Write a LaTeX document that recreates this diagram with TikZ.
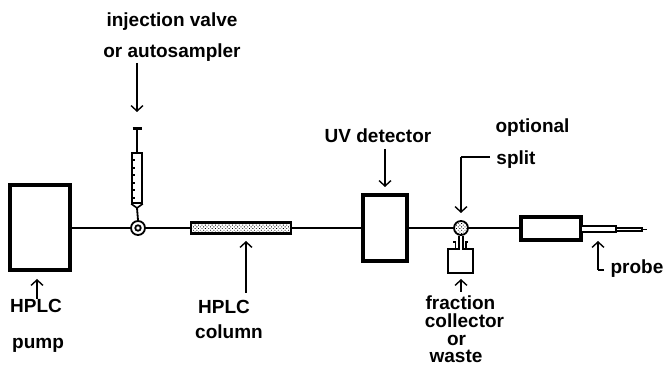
\documentclass[tikz,border=0pt]{standalone}
\usepackage{fontspec}
\setmainfont{Liberation Sans}
\usetikzlibrary{arrows.meta,patterns.meta}
\tikzset{
  lbl/.style={anchor=base,inner sep=0pt,font=\fontsize{19}{22}\selectfont\bfseries},
  box/.style={draw,line width=3.2pt,inner sep=0pt,fill=white,rectangle},
  thinbox/.style={draw,line width=1.6pt,inner sep=0pt,fill=white,rectangle},
  pipe/.style={line width=1.8pt},
  arr/.style={line width=1.4pt,-{Straight Barb[length=5.5pt,width=12pt,line width=1.4pt]}},
  lead/.style={line width=1.4pt},
  stipple/.style={pattern={Dots[radius=0.6pt,distance=2.4pt,angle=45]},pattern color=black}
}
\begin{document}
\begin{tikzpicture}[x=1pt,y=-1pt]
\useasboundingbox (0,0) rectangle (665,366);
% boxes
\node[box,minimum width=60pt,minimum height=85pt] (pump) at (40,227.5) {};
\node[box,minimum width=44pt,minimum height=66pt] (uv) at (385,228) {};
\node[box,minimum width=60pt,minimum height=23pt] (flow) at (551,228.5) {};
\node[box,stipple,line width=2.8pt,minimum width=100pt,minimum height=11pt] (column) at (241,228) {};
\node[circle,draw,line width=1.8pt,fill=white,minimum size=14pt,inner sep=0pt] (valve) at (138,228) {};
\node[circle,draw,line width=1.8pt,fill=white,minimum size=5.5pt,inner sep=0pt] (valvein) at (138,228) {};
\node[circle,draw,line width=1.8pt,stipple,minimum size=14pt,inner sep=0pt] (split) at (461,228) {};
% probe
\node[thinbox,minimum width=35pt,minimum height=6.5pt] (probeA) at (598.5,229) {};
\node[thinbox,minimum width=26pt,minimum height=3pt] (probeB) at (629,229.5) {};
\coordinate (probetip) at (647,229.5);
% syringe
\node[thinbox,minimum width=10pt,minimum height=50pt] (barrel) at (137,178) {};
\coordinate (plungertop) at (137,129);
\coordinate (tip) at (137,208);
% collector bottle
\node[thinbox,minimum width=25pt,minimum height=24pt] (bottle) at (460.5,261) {};
% tubing
\draw[pipe] (pump.east |- valve.west) -- (valve.west);
\draw[pipe] (valve.east) -- (column.west |- valve.east);
\draw[pipe] (column.east) -- (uv.west |- column.east);
\draw[pipe] (uv.east |- split.west) -- (split.west);
\draw[pipe] (split.east) -- (flow.west |- split.east);
\draw[line width=1.7pt] (probeB.east) -- (probetip);
% syringe details
\draw[line width=2pt] (plungertop) -- (barrel.north);
\draw[line width=3pt] ([xshift=-4.5pt]plungertop) -- ([xshift=4.5pt]plungertop);
\draw[line width=1.6pt] (barrel.south west) -- (tip) -- (barrel.south east);
\draw[pipe] (tip) -- (valve.north);
\foreach \t in {160,168,175,183,190,198}
  \draw[line width=1.3pt] (barrel.west |- 0,\t) -- ++(4,0);
% bottle neck
\draw[white,line width=3pt] (459,249) -- (463,249);
\draw[line width=1.3pt] (split.south) ++(-2,0) -- ++(0,14);
\draw[line width=1.3pt] (split.south) ++(2,0) -- ++(0,14);
\draw[line width=1.4pt] (bottle.north west) ++(8,0) |- ++(-2,-6);
\draw[line width=1.4pt] (bottle.north east) ++(-8,0) |- ++(2,-6);
% labels
\node[lbl] (t1) at (172,27) {injection valve};
\node[lbl] (t2) at (172,58) {or autosampler};
\node[lbl] (t3) at (378,143) {UV detector};
\node[lbl] (t4) at (532.5,133) {optional};
\node[lbl] (t5) at (516,165) {split};
\node[lbl] (t6) at (36,313) {HPLC};
\node[lbl] (t7) at (38,349) {pump};
\node[lbl] (t8) at (224,314) {HPLC};
\node[lbl] (t9) at (229,339) {column};
\node[lbl] (t10) at (460.5,310) {fraction};
\node[lbl] (t11) at (464.5,328) {collector};
\node[lbl] (t12) at (456.5,345.5) {or};
\node[lbl] (t13) at (456,363) {waste};
\node[lbl] (t14) at (637,274) {probe};
% pointers
\coordinate (a1) at (137,63); \coordinate (a1e) at (137,112);
\draw[arr] (a1) -- (a1e);
\coordinate (a2) at (385,149); \coordinate (a2e) at (385,187);
\draw[arr] (a2) -- (a2e);
\coordinate (a3) at (490,157); \coordinate (a3c) at (461,157); \coordinate (a3e) at (461,213);
\draw[lead] (a3) -- (a3c);
\draw[arr] (a3c) -- (a3e);
\coordinate (a4) at (37,299); \coordinate (a4e) at (37,279);
\draw[arr] (a4) -- (a4e);
\coordinate (a5) at (246,293); \coordinate (a5e) at (246,241);
\draw[arr] (a5) -- (a5e);
\coordinate (a6) at (461,292); \coordinate (a6e) at (461,279);
\draw[arr] (a6) -- (a6e);
\coordinate (a7) at (604,270); \coordinate (a7c) at (598,270); \coordinate (a7e) at (598,241);
\draw[lead] (a7) -- (a7c);
\draw[arr] (a7c) -- (a7e);
\end{tikzpicture}
\end{document}
